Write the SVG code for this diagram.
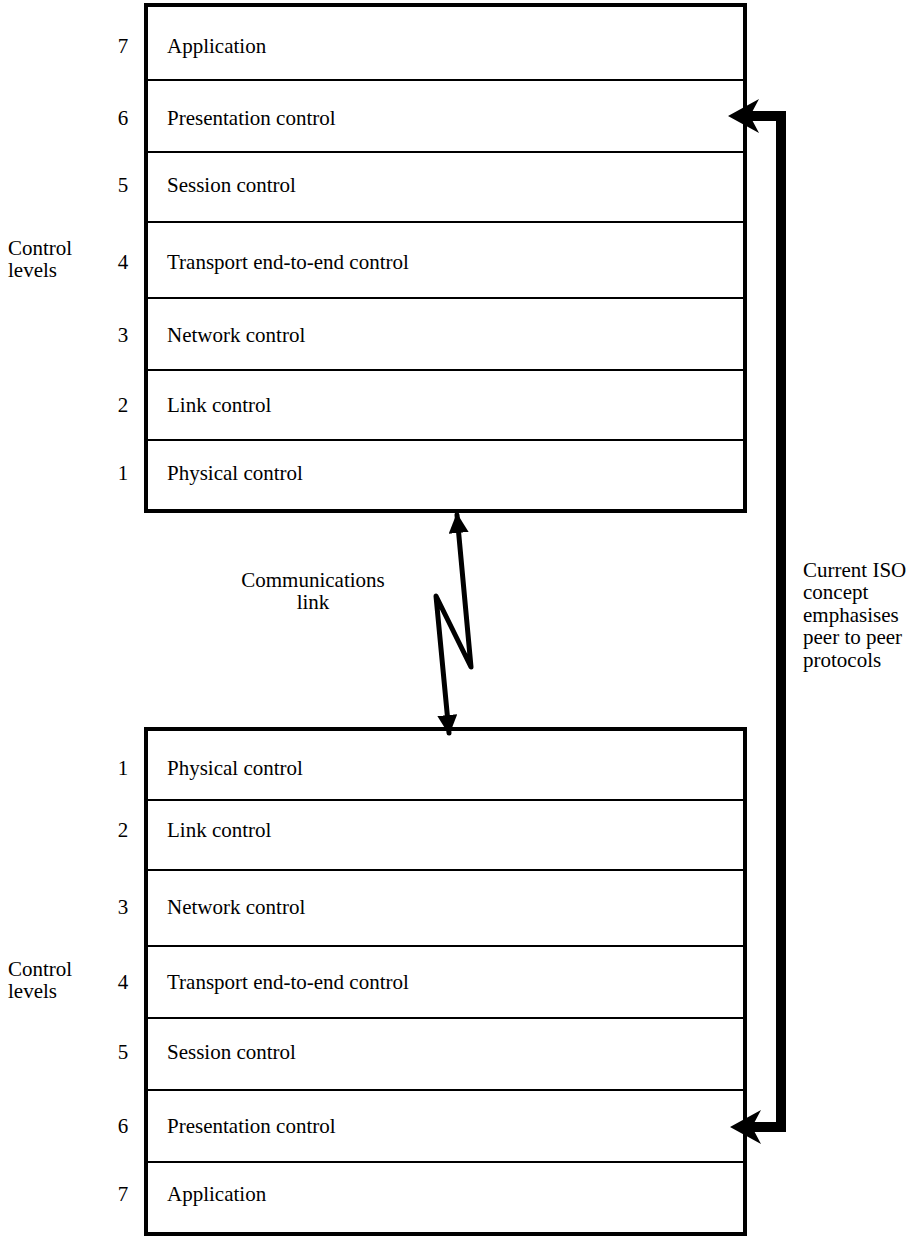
<svg xmlns="http://www.w3.org/2000/svg" width="922" height="1237" viewBox="0 0 922 1237">
<defs>
<style>
text{font-family:"Liberation Serif","Times New Roman",serif;font-size:21px;fill:#000}
.num{text-anchor:middle}
.box{fill:#fff;stroke:#000;stroke-width:4}
.div{stroke:#000;stroke-width:2}
.link{fill:none;stroke:#000;stroke-width:5;stroke-linejoin:round;stroke-linecap:round}
.peer{fill:none;stroke:#000;stroke-width:10;stroke-linejoin:miter}
</style>
<marker id="ah" viewBox="0 0 10 10" refX="9" refY="5" markerWidth="4" markerHeight="4" orient="auto-start-reverse" markerUnits="strokeWidth">
<path d="M0,0 L10,5 L0,10 Z" fill="#000"/>
</marker>
</defs>

<g id="top-stack">
<rect class="box" x="146" y="5" width="599" height="506"/>
<line class="div" x1="146" y1="80" x2="745" y2="80"/>
<line class="div" x1="146" y1="152" x2="745" y2="152"/>
<line class="div" x1="146" y1="222" x2="745" y2="222"/>
<line class="div" x1="146" y1="298" x2="745" y2="298"/>
<line class="div" x1="146" y1="370" x2="745" y2="370"/>
<line class="div" x1="146" y1="440" x2="745" y2="440"/>
<text x="167" y="53">Application</text>
<text x="167" y="125">Presentation control</text>
<text x="167" y="192">Session control</text>
<text x="167" y="269">Transport end-to-end control</text>
<text x="167" y="342">Network control</text>
<text x="167" y="412">Link control</text>
<text x="167" y="480">Physical control</text>
<text class="num" x="123" y="53">7</text>
<text class="num" x="123" y="125">6</text>
<text class="num" x="123" y="192">5</text>
<text class="num" x="123" y="269">4</text>
<text class="num" x="123" y="342">3</text>
<text class="num" x="123" y="412">2</text>
<text class="num" x="123" y="480">1</text>
<text x="8" y="255">Control</text>
<text x="8" y="277">levels</text>
</g>

<g id="bottom-stack">
<rect class="box" x="146" y="729" width="599" height="505"/>
<line class="div" x1="146" y1="800" x2="745" y2="800"/>
<line class="div" x1="146" y1="870" x2="745" y2="870"/>
<line class="div" x1="146" y1="946" x2="745" y2="946"/>
<line class="div" x1="146" y1="1018" x2="745" y2="1018"/>
<line class="div" x1="146" y1="1090" x2="745" y2="1090"/>
<line class="div" x1="146" y1="1162" x2="745" y2="1162"/>
<text x="167" y="775">Physical control</text>
<text x="167" y="837">Link control</text>
<text x="167" y="914">Network control</text>
<text x="167" y="989">Transport end-to-end control</text>
<text x="167" y="1059">Session control</text>
<text x="167" y="1133">Presentation control</text>
<text x="167" y="1201">Application</text>
<text class="num" x="123" y="775">1</text>
<text class="num" x="123" y="837">2</text>
<text class="num" x="123" y="914">3</text>
<text class="num" x="123" y="989">4</text>
<text class="num" x="123" y="1059">5</text>
<text class="num" x="123" y="1133">6</text>
<text class="num" x="123" y="1201">7</text>
<text x="8" y="976">Control</text>
<text x="8" y="998">levels</text>
</g>

<g id="labels">
<text x="313" y="587" text-anchor="middle">Communications</text>
<text x="313" y="609" text-anchor="middle">link</text>
<text x="803" y="577">Current ISO</text>
<text x="803" y="599">concept</text>
<text x="803" y="622">emphasises</text>
<text x="803" y="644">peer to peer</text>
<text x="803" y="667">protocols</text>
</g>

<g id="connectors">
<polyline class="link" points="457,515 471,667 436,596 449,733" marker-start="url(#ah)" marker-end="url(#ah)"/>
<polyline class="peer" points="750,116 781,116 781,1127 750,1127"/>
<path d="M728,116 L759,99 L750,116 L759,133 Z" fill="#000"/>
<path d="M730,1127 L761,1110 L752,1127 L761,1144 Z" fill="#000"/>
</g>
</svg>
